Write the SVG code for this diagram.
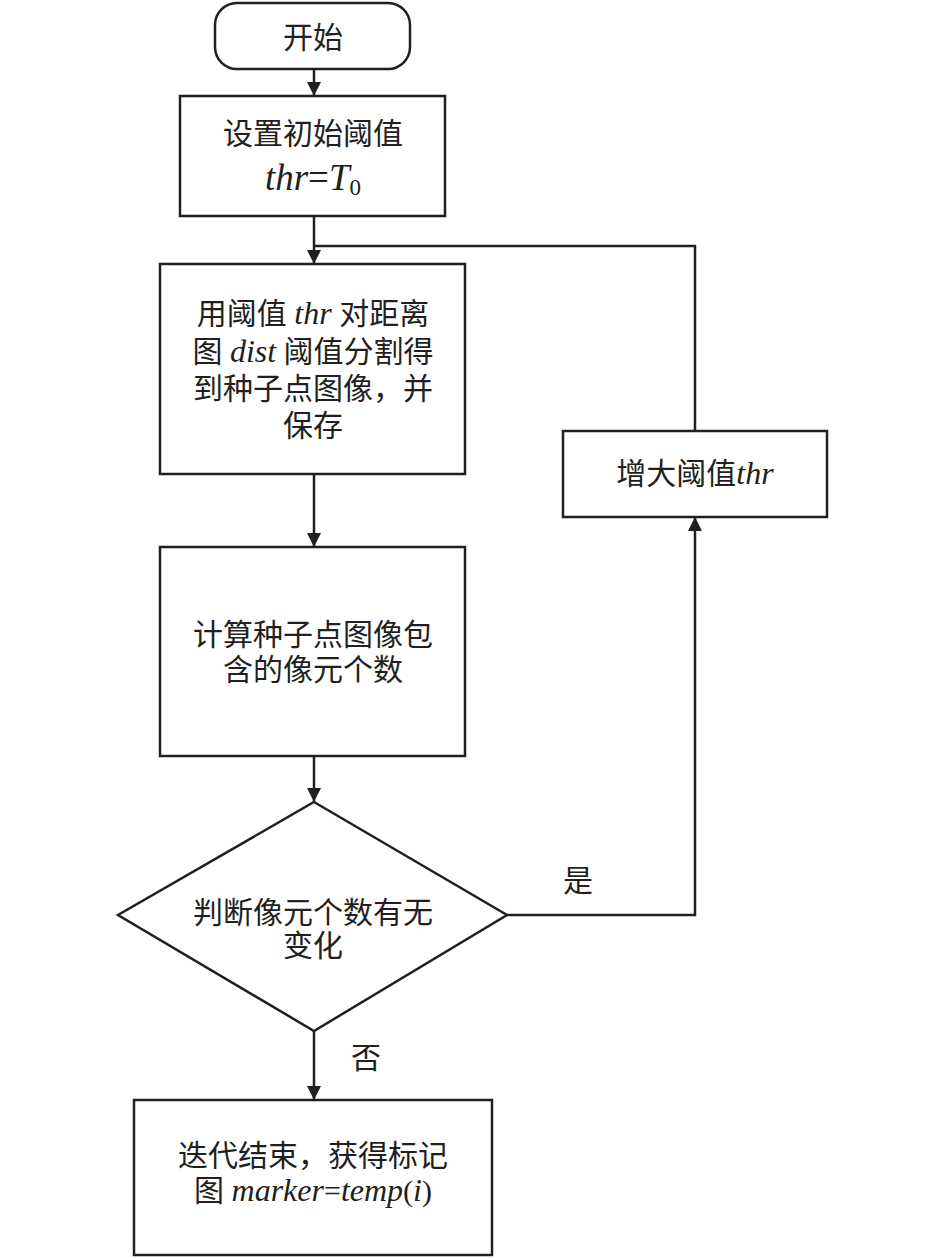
<svg xmlns="http://www.w3.org/2000/svg" width="946" height="1258" viewBox="0 0 946 1258">
<style>
.box{fill:#fff;stroke:#231f20;stroke-width:2.5}
.ln{fill:none;stroke:#231f20;stroke-width:2.5}
.t{font-family:"Liberation Serif","Noto Sans CJK SC",serif;font-size:30px;fill:#231f20;text-anchor:middle}
.i{font-style:italic;font-family:"Liberation Serif",serif;font-size:32px}
</style>
<defs>
<marker id="ah" markerUnits="userSpaceOnUse" markerWidth="14" markerHeight="16" refX="14" refY="7" orient="auto">
<path d="M0,0 L14,7 L0,14 Z" fill="#231f20"/>
</marker>
</defs>
<rect width="946" height="1258" fill="#fff"/>
<g id="connectors">
<path class="ln" d="M314,69 V96" marker-end="url(#ah)"/>
<path class="ln" d="M314,216 V264" marker-end="url(#ah)"/>
<path class="ln" d="M695,431 V246 H314"/>
<path class="ln" d="M314,474 V547" marker-end="url(#ah)"/>
<path class="ln" d="M314,756 V802" marker-end="url(#ah)"/>
<path class="ln" d="M507,915 H695 V517" marker-end="url(#ah)"/>
<path class="ln" d="M314,1031 V1100" marker-end="url(#ah)"/>
<text class="t" x="578" y="891">是</text>
<text class="t" x="366" y="1068">否</text>
</g>
<g id="start">
<rect class="box" x="215" y="3" width="195" height="66" rx="22"/>
<text class="t" x="313" y="48">开始</text>
</g>
<g id="init">
<rect class="box" x="180" y="96" width="265" height="120"/>
<text class="t" x="313" y="144">设置初始阈值</text>
<text class="t" x="313" y="190" style="font-size:37px"><tspan class="i" style="font-size:37px">thr</tspan>=<tspan class="i" style="font-size:37px">T</tspan><tspan style="font-size:23px" dy="5">0</tspan></text>
</g>
<g id="segment">
<rect class="box" x="160" y="264" width="305" height="210"/>
<text class="t" x="313" y="324">用阈值 <tspan class="i">thr</tspan> 对距离</text>
<text class="t" x="313" y="362">图 <tspan class="i">dist</tspan> 阈值分割得</text>
<text class="t" x="313" y="399">到种子点图像，并</text>
<text class="t" x="313" y="436">保存</text>
</g>
<g id="increase">
<rect class="box" x="563" y="431" width="264" height="86"/>
<text class="t" x="695" y="484">增大阈值<tspan class="i">thr</tspan></text>
</g>
<g id="count">
<rect class="box" x="160" y="547" width="305" height="209"/>
<text class="t" x="313" y="645">计算种子点图像包</text>
<text class="t" x="313" y="680">含的像元个数</text>
</g>
<g id="decision">
<polygon class="box" points="314,802 507,915 314,1031 118,915"/>
<text class="t" x="313" y="923">判断像元个数有无</text>
<text class="t" x="313" y="956">变化</text>
</g>
<g id="end">
<rect class="box" x="134" y="1100" width="358" height="155"/>
<text class="t" x="313" y="1166">迭代结束，获得标记</text>
<text class="t" x="313" y="1201">图 <tspan class="i">marker</tspan>=<tspan class="i">temp</tspan>(<tspan class="i">i</tspan>)</text>
</g>
</svg>
